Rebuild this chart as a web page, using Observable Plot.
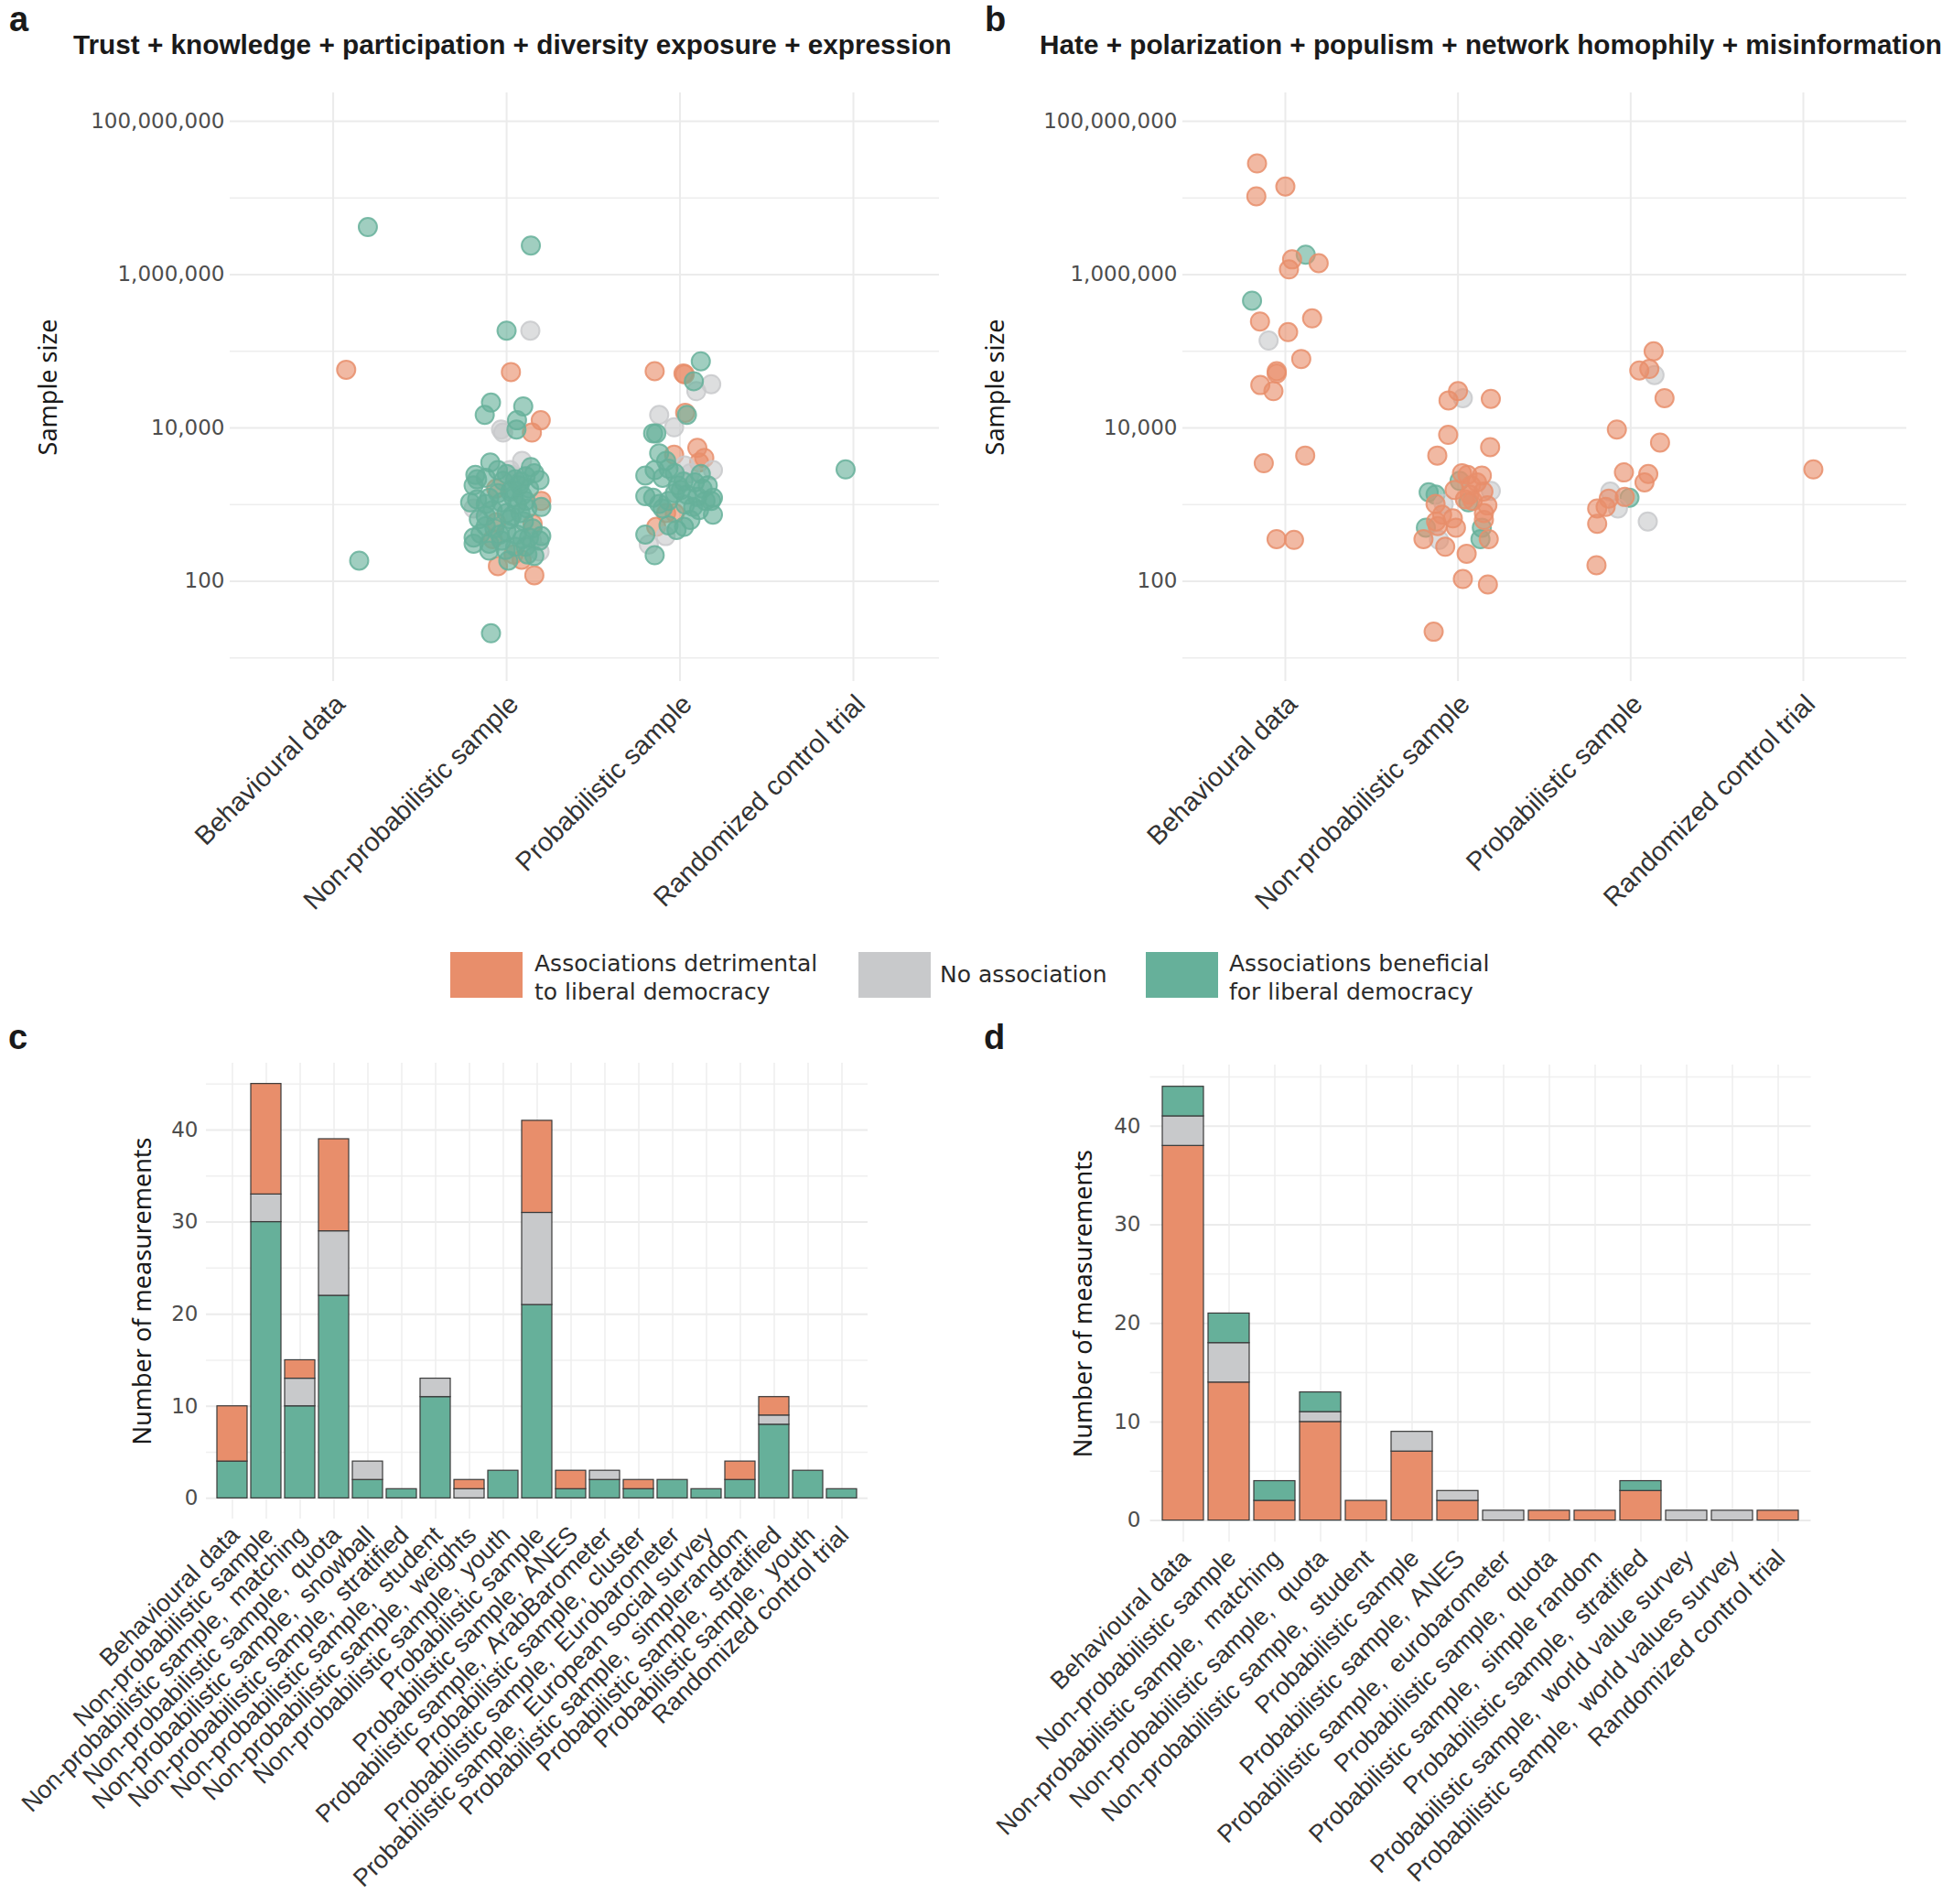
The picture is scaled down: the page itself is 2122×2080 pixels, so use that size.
<!DOCTYPE html>
<html>
<head>
<meta charset="utf-8">
<script src="https://cdn.jsdelivr.net/npm/d3@7"></script>
<script src="https://cdn.jsdelivr.net/npm/@observablehq/plot@0.6"></script>
<style>
html, body { margin: 0; padding: 0; background: #fff; overflow: hidden; }
#page { position: relative; width: 2122px; height: 2080px; overflow: hidden; background: #fff; }
.panel { position: absolute; }
.panel svg { overflow: visible; display: block; }
#overlay { position: absolute; left: 0; top: 0; z-index: 10; pointer-events: none; }
g[aria-label="y-axis tick label"] { font-family: "DejaVu Sans", sans-serif; font-size: 23px; fill: #4d4d4d; }
g[aria-label="x-axis tick label"] { font-family: "Liberation Sans", Arial, sans-serif; fill: #333; }
.scatter g[aria-label="x-axis tick label"] { font-size: 29px; }
.bars g[aria-label="x-axis tick label"] { font-size: 27px; }
g[aria-label="y-axis label"] { font-family: "Noto Sans", sans-serif; font-size: 27px; fill: #1a1a1a; }
</style>
</head>
<body>
<div id="page"></div>
<script>
// ---------- colours / effect categories ----------
const effectKeys = ["D", "N", "B"];
const effectColors = ["#E88E6B", "#C8C9CB", "#66B09A"];
const effectLabels = [["Associations detrimental", "to liberal democracy"], ["No association"], ["Associations beneficial", "for liberal democracy"]];

// ---------- panel titles ----------
const titleA = "Trust + knowledge + participation + diversity exposure + expression";
const titleB = "Hate + polarization + populism + network homophily + misinformation";

// ---------- scatter (panels a, b) ----------
const scatterGroups = ["Behavioural data", "Non-probabilistic sample", "Probabilistic sample", "Randomized control trial"];
const sizeTicks = [1e2, 1e4, 1e6, 1e8];
const sizeMinorTicks = [1e1, 1e3, 1e5, 1e7];

// panel a
const aBehSize = [4170000, 57500, 186];
const aBehJit = [0.20, 0.075, 0.15];
const aBehEff = ["B", "D", "B"];

const aNonSize = [2400000, 186000, 186000, 53700, 21400, 14800, 19100, 12600, 12600, 9550, 8710, 9550, 8710, 3550, 3720, 2450, 2140, 3090, 2090, 2040, 2140, 2450, 2340, 2570, 1620, 1170, 1230, 891, 933, 1120, 1070, 1230, 1120, 646, 708, 589, 646, 776, 562, 490, 372, 309, 309, 339, 407, 372, 339, 389, 257, 245, 214, 224, 158, 191, 186, 120, 21, 490, 1780, 1620, 776, 1020, 1070, 2820, 1480, 355, 282, 339, 407,
  2820, 2510, 2000, 1580, 1410, 1320, 1000, 891, 851, 708, 603, 525, 447, 417, 355, 282, 251, 224, 2240, 1780];
const aNonJit = [0.14, 0, 0.137, 0.025, -0.09, -0.126, 0.096, 0.06, 0.197, -0.032, -0.02, 0.057, 0.146, -0.094, 0.089, -0.18, -0.17, 0.14, 0.19, -0.02, 0.05, 0.03, 0.11, 0.16, -0.06, -0.17, -0.10, -0.19, 0.20, 0.20, -0.03, 0.04, 0.11, -0.16, -0.12, -0.06, 0.02, 0.08, 0.15, 0.15, -0.19, -0.19, -0.10, -0.03, 0.06, 0.13, 0.19, 0.20, -0.005, 0.19, 0.16, 0.04, -0.05, 0.087, 0.01, 0.16, -0.09, -0.07, 0.075, 0.13, 0, -0.12, -0.21, 0.02, 0.02, -0.08, 0.11, 0.146, -0.04,
  -0.05, 0, 0.08, 0.03, -0.05, 0.09, 0.06, 0.12, -0.08, 0.03, 0.10, -0.12, 0, -0.15, 0.09, 0.05, -0.10, 0.12, -0.12, -0.19];
const aNonEff = ["B", "B", "N", "D", "B", "B", "B", "B", "D", "N", "N", "B", "D", "B", "N", "B", "B", "B", "B", "B", "B", "N", "B", "B", "D", "B", "B", "N", "B", "D", "B", "B", "B", "B", "B", "D", "B", "B", "D", "B", "B", "B", "B", "B", "B", "B", "B", "B", "B", "N", "B", "D", "D", "D", "B", "D", "B", "B", "B", "B", "B", "B", "B", "N", "B", "D", "B", "N", "B",
  "B", "B", "B", "B", "B", "B", "B", "B", "B", "B", "B", "B", "B", "B", "B", "B", "B", "B", "B", "B"];

const aProSize = [74100, 55000, 51300, 50100, 40700, 37200, 30200, 14800, 15800, 14800, 10200, 8510, 8510, 5500, 4070, 3550, 2820, 4680, 4470, 3720, 3240, 2400, 2820, 2950, 2570, 2570, 1290, 1230, 1020, 1120, 1550, 1350, 1950, 1620, 1230, 1120, 851, 741, 776, 513, 537, 468, 513, 407, 302, 389, 219, 776, 1780, 933,
  2240, 2000, 1780, 1410, 1260, 1000, 891, 631, 2510, 1120];
const aProJit = [0.12, -0.146, 0.02, 0.027, 0.08, 0.18, 0.094, -0.12, 0.03, 0.04, -0.034, -0.155, -0.137, 0.10, 0.14, 0.11, 0.19, -0.12, -0.034, -0.08, 0.027, -0.2, -0.146, -0.066, -0.03, 0.06, -0.2, -0.155, -0.12, -0.066, 0.005, 0.04, 0.085, 0.13, 0.19, 0.147, 0.11, 0.19, -0.08, -0.137, -0.066, -0.02, 0.023, -0.2, -0.18, -0.083, -0.146, -0.03, -0.012, 0.076,
  -0.1, 0.02, 0.16, -0.03, 0.10, 0.03, -0.1, 0.06, 0.12, 0.18];
const aProEff = ["B", "D", "D", "D", "B", "N", "N", "N", "D", "B", "N", "B", "B", "D", "D", "D", "N", "B", "D", "B", "N", "B", "B", "B", "B", "N", "B", "B", "B", "B", "B", "B", "B", "B", "B", "B", "B", "B", "D", "D", "B", "B", "B", "B", "N", "N", "B", "D", "B", "B",
  "B", "B", "B", "B", "B", "B", "B", "B", "B", "B"];

const aRctSize = [2880];
const aRctJit = [-0.045];
const aRctEff = ["B"];

// panel b
const bBehSize = [28200000, 14100000, 10500000, 1820000, 1580000, 1410000, 1170000, 457000, 245000, 269000, 178000, 138000, 79400, 55000, 51300, 36300, 30200, 3470, 4370, 355, 347];
const bBehJit = [-0.164, 0, -0.168, 0.118, 0.039, 0.193, 0.021, -0.193, -0.147, 0.155, 0.016, -0.097, 0.092, -0.05, -0.05, -0.145, -0.069, -0.125, 0.115, -0.051, 0.05];
const bBehEff = ["D", "D", "D", "B", "D", "D", "D", "B", "D", "D", "D", "N", "D", "D", "D", "D", "D", "D", "D", "D", "D"];

const bNonSize = [30200, 24500, 22900, 24000, 8130, 5620, 4370, 2570, 2450, 2400, 2040, 1450, 1350, 1550, 1780, 1950, 1510, 1480, 1350, 1120, 1170, 1020, 1020, 977, 1070, 776, 741, 661, 603, 631, 501, 501, 525, 501, 347, 355, 355, 355, 282, 229, 107, 91, 22];
const bNonJit = [0, 0.028, -0.055, 0.19, -0.057, 0.186, -0.12, 0.023, 0.055, 0.138, 0.009, -0.17, -0.13, -0.02, 0.076, 0.11, 0.19, 0.147, 0.067, 0.085, 0.04, -0.083, -0.13, 0.17, 0.06, 0.15, -0.092, -0.03, -0.127, 0.15, -0.186, 0.138, -0.118, -0.012, -0.11, -0.2, 0.13, 0.178, -0.074, 0.05, 0.028, 0.173, -0.141];
const bNonEff = ["D", "N", "D", "D", "D", "D", "D", "D", "D", "D", "B", "B", "B", "D", "D", "D", "N", "D", "D", "D", "D", "N", "D", "D", "B", "D", "D", "D", "D", "D", "B", "B", "D", "D", "N", "D", "B", "D", "D", "D", "D", "D", "D"];

const bProSize = [100000, 56200, 49000, 58900, 24500, 9550, 6460, 2630, 2510, 1950, 1480, 1230, 1260, 891, 1200, 933, 891, 603, 562, 162];
const bProJit = [0.133, 0.05, 0.138, 0.108, 0.196, -0.08, 0.17, -0.039, 0.102, 0.08, -0.118, -0.007, -0.034, -0.074, -0.127, -0.145, -0.194, 0.099, -0.194, -0.198];
const bProEff = ["D", "D", "N", "D", "D", "D", "D", "D", "D", "D", "N", "B", "D", "N", "D", "D", "D", "N", "D", "D"];

const bRctSize = [2880];
const bRctJit = [0.058];
const bRctEff = ["D"];

// ---------- stacked bars (panels c, d) ----------
const cCategories = ["Behavioural data", "Non-probabilistic sample", "Non-probabilistic sample,  matching", "Non-probabilistic sample,  quota", "Non-probabilistic sample,  snowball", "Non-probabilistic sample,  stratified", "Non-probabilistic sample,  student", "Non-probabilistic sample,  weights", "Non-probabilistic sample,  youth", "Probabilistic sample", "Probabilistic sample,  ANES", "Probabilistic sample,  ArabBarometer", "Probabilistic sample,  cluster", "Probabilistic sample,  Eurobarometer", "Probabilistic sample,  European social survey", "Probabilistic sample,  simplerandom", "Probabilistic sample,  stratified", "Probabilistic sample,  youth", "Randomized control trial"];
const cBeneficial = [4, 30, 10, 22, 2, 1, 11, 0, 3, 21, 1, 2, 1, 2, 1, 2, 8, 3, 1];
const cNone = [0, 3, 3, 7, 2, 0, 2, 1, 0, 10, 0, 1, 0, 0, 0, 0, 1, 0, 0];
const cDetrimental = [6, 12, 2, 10, 0, 0, 0, 1, 0, 10, 2, 0, 1, 0, 0, 2, 2, 0, 0];

const dCategories = ["Behavioural data", "Non-probabilistic sample", "Non-probabilistic sample,  matching", "Non-probabilistic sample,  quota", "Non-probabilistic sample,  student", "Probabilistic sample", "Probabilistic sample,  ANES", "Probabilistic sample,  eurobarometer", "Probabilistic sample,  quota", "Probabilistic sample,  simple random", "Probabilistic sample,  stratified", "Probabilistic sample,  world value survey", "Probabilistic sample,  world values survey", "Randomized control trial"];
const dDetrimental = [38, 14, 2, 10, 2, 7, 2, 0, 1, 1, 3, 0, 0, 1];
const dNone = [3, 4, 0, 1, 0, 2, 1, 1, 0, 0, 0, 1, 1, 0];
const dBeneficial = [3, 3, 2, 2, 0, 0, 0, 0, 0, 0, 1, 0, 0, 0];
const countTicks = [0, 10, 20, 30, 40];
const countMinorTicks = [5, 15, 25, 35, 45];

// ---------- builders ----------
const page = document.getElementById("page");
function place(node, left, top, cls) {
  const div = document.createElement("div");
  div.className = "panel " + cls;
  div.style.left = left + "px";
  div.style.top = top + "px";
  div.appendChild(node);
  page.appendChild(div);
}

function scatterPanel(chunks, cfg) {
  const data = [];
  chunks.forEach(([gi, sizes, jits, effs]) => {
    sizes.forEach((s, i) => data.push({pos: gi + 1 + jits[i], size: s, e: effs[i]}));
  });
  return Plot.plot({
    width: cfg.width, height: cfg.height,
    marginLeft: cfg.ml, marginRight: cfg.mr, marginTop: cfg.mt, marginBottom: cfg.mb,
    style: {background: "white", overflow: "visible", fontFamily: "Liberation Sans, Arial, sans-serif"},
    x: {type: "linear", domain: cfg.xDomain},
    y: {type: "log", domain: [10 ** 0.693, 10 ** 8.37]},
    color: {domain: effectKeys, range: effectColors},
    marks: [
      Plot.gridY(sizeMinorTicks, {stroke: "#ededed", strokeOpacity: 1, strokeWidth: 1.5}),
      Plot.gridY(sizeTicks, {stroke: "#ebebeb", strokeOpacity: 1, strokeWidth: 2}),
      Plot.gridX([1, 2, 3, 4], {stroke: "#ebebeb", strokeOpacity: 1, strokeWidth: 2}),
      Plot.axisY(sizeTicks, {tickFormat: d3.format(","), tickSize: 0, tickPadding: 6, fontSize: 23,
        label: "Sample size", labelAnchor: "center", labelOffset: cfg.labelOffset, labelArrow: "none"}),
      Plot.axisX([1, 2, 3, 4], {tickFormat: d => scatterGroups[d - 1], tickRotate: -45, tickSize: 0,
        tickPadding: 20, dx: 8, fontSize: 29, label: null}),
      Plot.dot(data, {x: "pos", y: "size", r: 10, fill: "e", stroke: "e", fillOpacity: 0.62,
        strokeOpacity: 0.85, strokeWidth: 2, sort: d => cfg.drawOrder.indexOf(d.e)})
    ]
  });
}

function barPanel(cats, series, cfg) {
  const rows = [];
  cats.forEach((c, i) => {
    series.forEach(([key, arr]) => rows.push({cat: c, e: key, n: arr[i]}));
  });
  return Plot.plot({
    width: cfg.width, height: cfg.height,
    marginLeft: cfg.ml, marginRight: cfg.mr, marginTop: cfg.mt, marginBottom: cfg.mb,
    style: {background: "white", overflow: "visible", fontFamily: "Liberation Sans, Arial, sans-serif"},
    x: {type: "band", domain: cats, paddingInner: 0.1, paddingOuter: 0.15},
    y: {domain: cfg.yDomain},
    color: {domain: effectKeys, range: effectColors},
    marks: [
      Plot.gridY(countMinorTicks, {stroke: "#f0f0f0", strokeOpacity: 1, strokeWidth: 1.5}),
      Plot.gridY(countTicks, {stroke: "#ebebeb", strokeOpacity: 1, strokeWidth: 2}),
      Plot.gridX({stroke: "#eeeeee", strokeOpacity: 1, strokeWidth: 1.5}),
      Plot.barY(rows, {x: "cat", y: "n", fill: "e", z: "e", order: cfg.order, stroke: "#3a3a3a", strokeWidth: 1.2}),
      Plot.axisY(countTicks, {tickSize: 0, tickPadding: cfg.tickPadY, fontSize: 23,
        label: "Number of measurements", labelAnchor: "center", labelOffset: cfg.labelOffset, labelArrow: "none"}),
      Plot.axisX({tickRotate: -45, tickSize: 0, tickPadding: 13, dx: 3, fontSize: 27, label: null})
    ]
  });
}

// panel a
place(scatterPanel([[0, aBehSize, aBehJit, aBehEff], [1, aNonSize, aNonJit, aNonEff], [2, aProSize, aProJit, aProEff], [3, aRctSize, aRctJit, aRctEff]],
  {width: 1060, height: 940, ml: 251, mr: 34, mt: 21, mb: 276, xDomain: [0.406, 4.496], labelOffset: 209, drawOrder: ["D", "N", "B"]}), 0, 80, "scatter");
// panel b
place(scatterPanel([[0, bBehSize, bBehJit, bBehEff], [1, bNonSize, bNonJit, bNonEff], [2, bProSize, bProJit, bProEff], [3, bRctSize, bRctJit, bRctEff]],
  {width: 1062, height: 940, ml: 232, mr: 39, mt: 21, mb: 276, xDomain: [0.4064, 4.599], labelOffset: 215, drawOrder: ["B", "N", "D"]}), 1060, 80, "scatter");
// panel c
place(barPanel(cCategories, [["B", cBeneficial], ["N", cNone], ["D", cDetrimental]],
  {width: 1060, height: 980, ml: 225, mr: 112, mt: 61, mb: 421, yDomain: [-2.25, 47.25], order: ["B", "N", "D"], tickPadY: 9, labelOffset: 80}), 0, 1100, "bars");
// panel d
place(barPanel(dCategories, [["D", dDetrimental], ["N", dNone], ["B", dBeneficial]],
  {width: 1062, height: 980, ml: 196.5, mr: 143.5, mt: 63, mb: 395.7, yDomain: [-2.2, 46.2], order: ["D", "N", "B"], tickPadY: 10.5, labelOffset: 83}), 1060, 1100, "bars");

// ---------- overlay: panel letters, titles, legend ----------
const overlay = d3.select(page).append("svg").attr("id", "overlay").attr("width", 2122).attr("height", 2080);
const letters = [["a", 10, 34], ["b", 1076, 34], ["c", 9, 1146], ["d", 1075, 1146]];
letters.forEach(([t, x, y]) => overlay.append("text").attr("x", x).attr("y", y).text(t)
  .attr("font-family", "Liberation Sans, Arial, sans-serif").attr("font-weight", "bold").attr("font-size", 38).attr("fill", "#1a1a1a"));

const tA = overlay.append("text").text(titleA);
const tB = overlay.append("text").text(titleB);
[tA, tB].forEach(t => t.attr("font-family", "Liberation Sans, Arial, sans-serif").attr("font-weight", "bold").attr("font-size", 29).attr("fill", "#1a1a1a"));
const k = 960 / tA.node().getComputedTextLength();
tA.attr("transform", `translate(80,59) scale(${k},1)`);
tB.attr("transform", `translate(1136,59) scale(${k},1)`);

const swatchX = [492, 938, 1252];
const textX = [584, 1027, 1343];
effectKeys.forEach((key, i) => {
  overlay.append("rect").attr("x", swatchX[i]).attr("y", 1040).attr("width", 79).attr("height", 50).attr("fill", effectColors[i]);
  const lines = effectLabels[i];
  const baselines = lines.length === 2 ? [1061, 1092] : [1073];
  lines.forEach((ln, j) => overlay.append("text").attr("x", textX[i]).attr("y", baselines[j]).text(ln)
    .attr("font-family", "DejaVu Sans, sans-serif").attr("font-size", 25).attr("fill", "#2b2b2b"));
});
</script>
</body>
</html>
